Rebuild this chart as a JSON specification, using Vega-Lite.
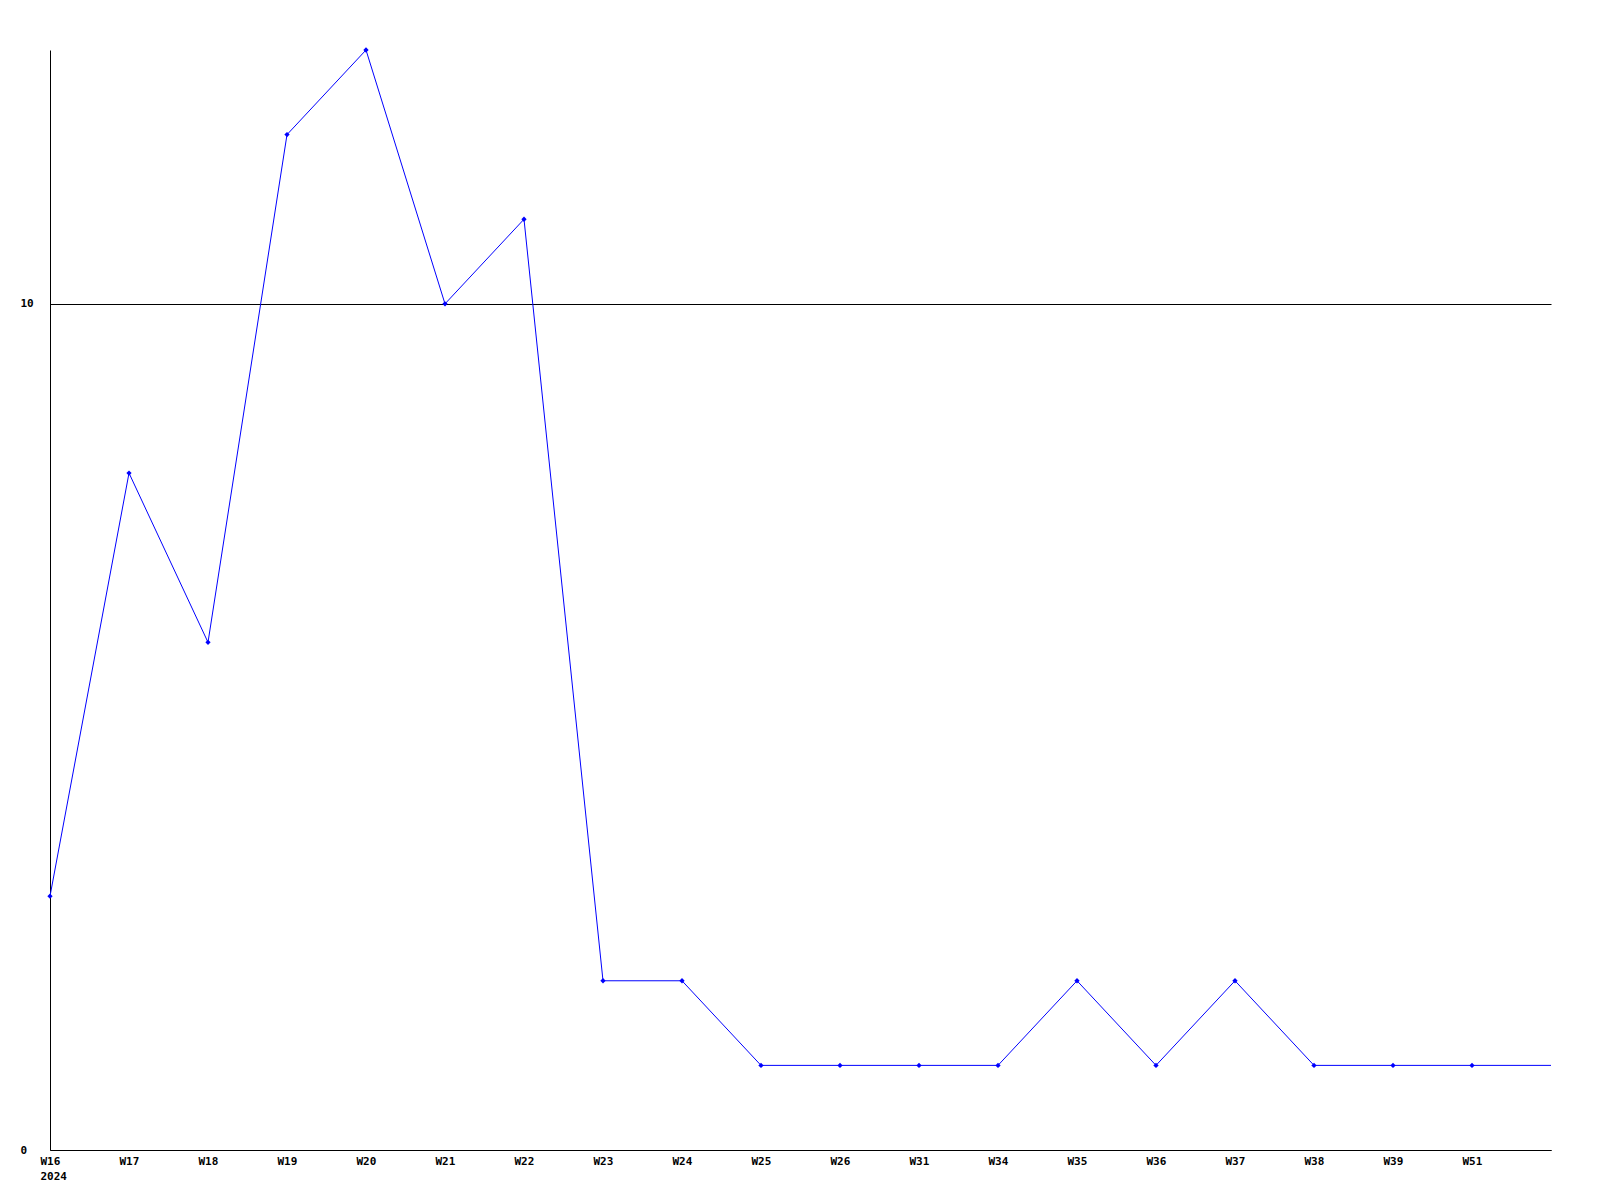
{
  "$schema": "https://vega.github.io/schema/vega-lite/v6.json",
  "autosize": {"type": "none"},
  "padding": {"left": 50, "top": 50, "right": 49, "bottom": 50},
  "width": 1501,
  "height": 1100,
  "background": "white",
  "config": {"view": {"stroke": null}},
  "data": {"values": [
    {"week": "W16", "value": 3, "marker": true},
    {"week": "W17", "value": 8, "marker": true},
    {"week": "W18", "value": 6, "marker": true},
    {"week": "W19", "value": 12, "marker": true},
    {"week": "W20", "value": 13, "marker": true},
    {"week": "W21", "value": 10, "marker": true},
    {"week": "W22", "value": 11, "marker": true},
    {"week": "W23", "value": 2, "marker": true},
    {"week": "W24", "value": 2, "marker": true},
    {"week": "W25", "value": 1, "marker": true},
    {"week": "W26", "value": 1, "marker": true},
    {"week": "W31", "value": 1, "marker": true},
    {"week": "W34", "value": 1, "marker": true},
    {"week": "W35", "value": 2, "marker": true},
    {"week": "W36", "value": 1, "marker": true},
    {"week": "W37", "value": 2, "marker": true},
    {"week": "W38", "value": 1, "marker": true},
    {"week": "W39", "value": 1, "marker": true},
    {"week": "W51", "value": 1, "marker": true},
    {"week": "end", "value": 1, "marker": false}
  ]},
  "encoding": {
    "x": {
      "field": "week", "type": "ordinal",
      "scale": {"type": "point", "padding": 0, "domain": ["W16","W17","W18","W19","W20","W21","W22","W23","W24","W25","W26","W31","W34","W35","W36","W37","W38","W39","W51","end"]},
      "axis": {
        "title": null, "ticks": false, "domain": true, "domainColor": "black", "domainWidth": 1,
        "labelAngle": 0, "labelAlign": "left", "labelOffset": -10, "labelBaseline": "top", "labelPadding": 5,
        "labelFont": "DejaVu Sans Mono", "labelFontWeight": "bold", "labelFontSize": 11, "labelColor": "black",
        "labelLineHeight": 15, "labelOverlap": false, "labelBound": false, "labelFlush": false,
        "labelExpr": "datum.value == 'W16' ? ['W16','2024'] : (datum.value == 'end' ? '' : datum.value)"
      }
    },
    "y": {
      "field": "value", "type": "quantitative",
      "scale": {"domain": [0, 13], "nice": false, "zero": true},
      "axis": {
        "title": null, "ticks": false, "values": [0, 10], "grid": true, "gridColor": "black", "gridOpacity": 1, "gridWidth": 1,
        "domain": true, "domainColor": "black", "labelPadding": 30, "labelAlign": "left",
        "labelFont": "DejaVu Sans Mono", "labelFontWeight": "bold", "labelFontSize": 11, "labelColor": "black"
      }
    }
  },
  "layer": [
    {"mark": {"type": "line", "color": "#0000ff", "strokeWidth": 1}},
    {
      "transform": [{"filter": "datum.marker"}],
      "mark": {"type": "point", "shape": "diamond", "filled": true, "color": "#0000ff", "size": 28, "opacity": 1}
    }
  ]
}
